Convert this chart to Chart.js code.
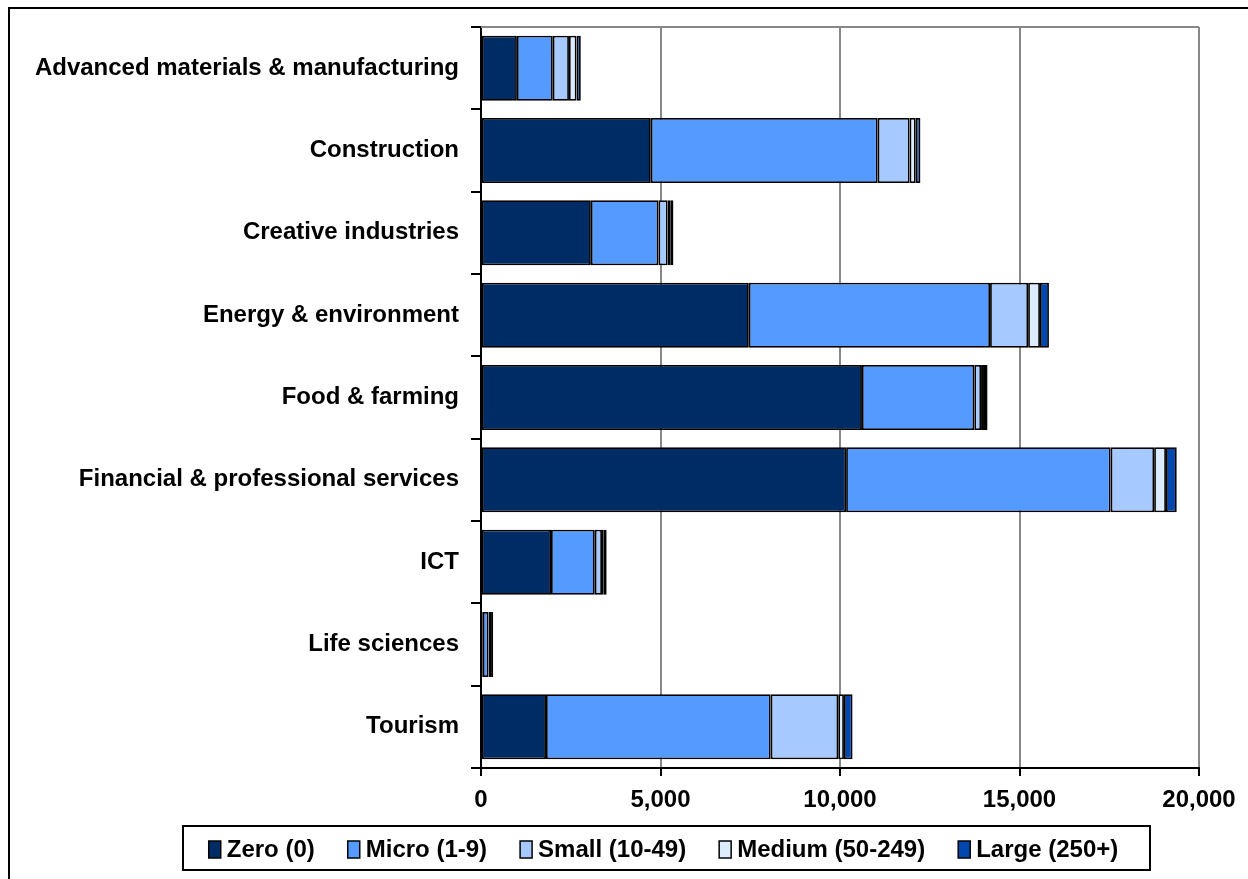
<!DOCTYPE html>
<html>
<head>
<meta charset="utf-8">
<script src="https://cdn.jsdelivr.net/npm/chart.js@4"></script>
<style>
  html, body { margin: 0; padding: 0; background: #fff; }
  #wrap { width: 1248px; height: 879px; position: relative; }
</style>
</head>
<body>
<div id="wrap"><canvas id="barChart" width="1248" height="879"></canvas></div>
<script>
// categories (top to bottom)
const sectors = [
  "Advanced materials & manufacturing",
  "Construction",
  "Creative industries",
  "Energy & environment",
  "Food & farming",
  "Financial & professional services",
  "ICT",
  "Life sciences",
  "Tourism",
];

// number of businesses by size band
const zero = [1000, 4730, 3060, 7460, 10610, 10170, 1950, 50, 1810];
const micro = [1000, 6320, 1880, 6720, 3130, 7370, 1220, 160, 6260];
const small = [450, 890, 260, 1060, 190, 1210, 200, 40, 1880];
const medium = [210, 170, 70, 330, 80, 330, 50, 30, 160];
const large = [120, 130, 90, 250, 100, 300, 80, 60, 240];

const seriesNames = ["Zero (0)", "Micro (1-9)", "Small (10-49)", "Medium (50-249)", "Large (250+)"];
const seriesColors = ["#002c66", "#559bff", "#a6caff", "#ddebff", "#0048b0"];

const xTicks = [0, 5000, 10000, 15000, 20000];

const FONT = "'Liberation Sans', Arial, sans-serif";

// frame, plot border and boxed legend
const framePlugin = {
  id: "frame",
  afterDraw(chart) {
    const ctx = chart.ctx;
    const a = chart.chartArea;
    ctx.save();
    // outer frame
    ctx.strokeStyle = "#000";
    ctx.lineWidth = 2;
    ctx.strokeRect(9, 8, 1260, 900);
    // plot top border
    ctx.strokeStyle = "#888";
    ctx.beginPath();
    ctx.moveTo(a.left, a.top);
    ctx.lineTo(a.right, a.top);
    ctx.stroke();

    // legend
    ctx.strokeStyle = "#000";
    ctx.lineWidth = 2;
    ctx.strokeRect(183, 826, 967, 44);
    ctx.font = "bold 24px " + FONT;
    ctx.textBaseline = "middle";
    ctx.fillStyle = "#000";
    const sq = 12, gapTxt = 6, gapItem = 33;
    const widths = chart.data.datasets.map(d => sq + gapTxt + ctx.measureText(d.label).width);
    const total = widths.reduce((s, w) => s + w, 0) + gapItem * (widths.length - 1);
    let x = 183 + (967 - total) / 2 - 3;
    const cy = 849;
    chart.data.datasets.forEach((d, i) => {
      ctx.fillStyle = d.backgroundColor;
      ctx.fillRect(x, cy - 8, sq, 17);
      ctx.lineWidth = 1.5;
      ctx.strokeStyle = "#000";
      ctx.strokeRect(x, cy - 8, sq, 17);
      ctx.fillStyle = "#000";
      ctx.fillText(d.label, x + sq + gapTxt, cy + 1);
      x += widths[i] + gapItem;
    });
    ctx.restore();
  },
};

const series = [zero, micro, small, medium, large];

const ctx = document.getElementById("barChart").getContext("2d");
const barChart = new Chart(ctx, {
  type: "bar",
  data: {
    labels: sectors,
    datasets: series.map((vals, i) => ({
      label: seriesNames[i],
      data: vals,
      backgroundColor: seriesColors[i],
      borderColor: "#000",
      borderWidth: 1.8,
      borderSkipped: false,
      barPercentage: 0.79,
      categoryPercentage: 1,
    })),
  },
  options: {
    indexAxis: "y",
    responsive: false,
    animation: false,
    layout: {
      padding: { left: 0, top: 27, right: 49, bottom: 61 },
    },
    plugins: {
      legend: { display: false },
      tooltip: { enabled: false },
    },
    scales: {
      x: {
        stacked: true,
        min: 0,
        max: 20000,
        afterBuildTicks: (scale) => {
          scale.ticks = xTicks.map(v => ({ value: v }));
        },
        afterFit: (scale) => {
          scale.height = 50;
        },
        grid: {
          color: "#888",
          lineWidth: 2,
          tickColor: "#000",
          tickLength: 8,
        },
        border: { color: "#000", width: 2 },
        ticks: {
          color: "#000",
          padding: 10,
          font: { family: FONT, size: 24, weight: "bold" },
          callback: (v) => Number(v).toLocaleString("en-US"),
        },
      },
      y: {
        stacked: true,
        afterFit: (scale) => {
          scale.width = 481;
        },
        grid: {
          drawOnChartArea: false,
          tickColor: "#000",
          tickLength: 10,
          lineWidth: 2,
        },
        border: { color: "#000", width: 2 },
        ticks: {
          color: "#000",
          padding: 12,
          font: { family: FONT, size: 24, weight: "bold" },
        },
      },
    },
  },
  plugins: [framePlugin],
});
</script>
</body>
</html>
